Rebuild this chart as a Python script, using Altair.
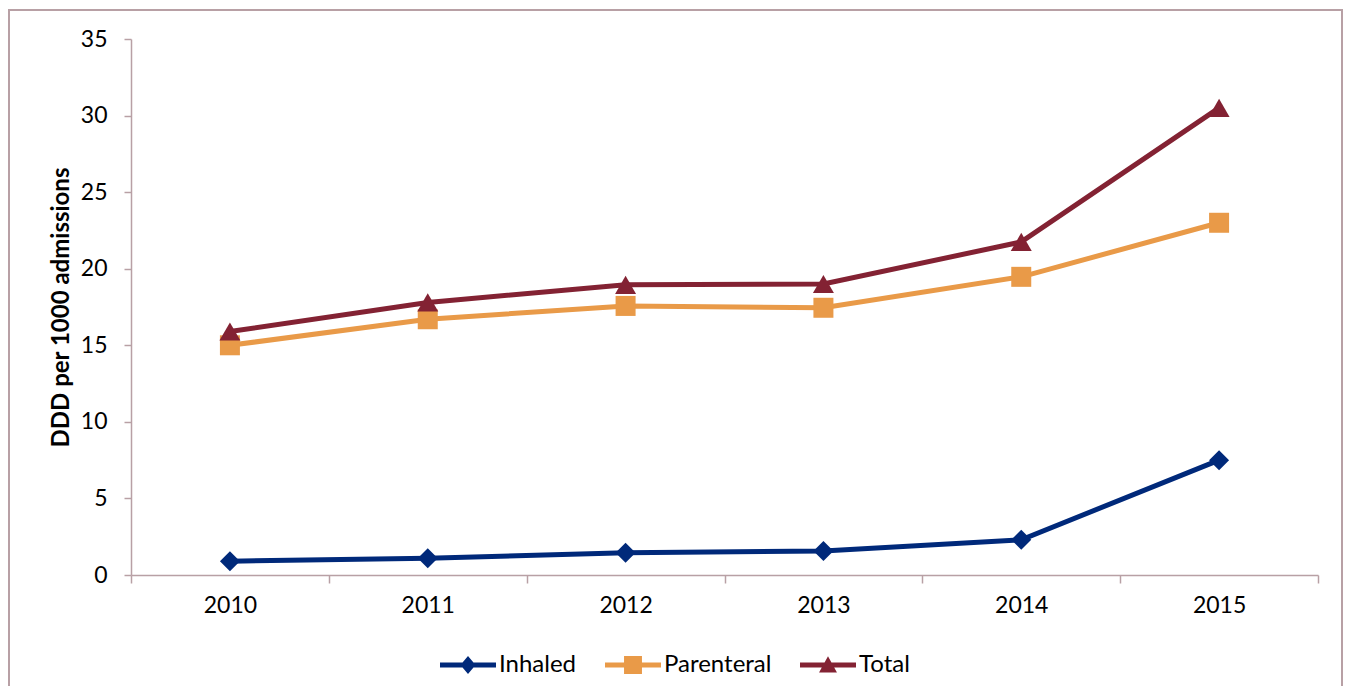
import altair as alt
import pandas as pd

years = ["2010", "2011", "2012", "2013", "2014", "2015"]
series_names = ["Inhaled", "Parenteral", "Total"]
inhaled = [0.9, 1.1, 1.45, 1.57, 2.3, 7.5]
parenteral = [15.0, 16.7, 17.57, 17.45, 19.47, 23.0]
total = [15.9, 17.8, 18.95, 19.0, 21.75, 30.5]
y_ticks = [0, 5, 10, 15, 20, 25, 30, 35]

colors = ["#00297A", "#E99A48", "#832233"]
marker_shapes = ["diamond", "square", "triangle-up"]
marker_sizes = [400, 400, 441]
legend_paths = [
    "M-1,-0.09H1V0.09H-1Z M0,-0.32L0.27,0L0,0.32L-0.27,0Z",
    "M-1,-0.09H1V0.09H-1Z M-0.32,-0.32H0.32V0.32H-0.32Z",
    "M-1,-0.09H1V0.09H-1Z M0,-0.31L0.32,0.27H-0.32Z",
]

rows = []
for name, vals in zip(series_names, [inhaled, parenteral, total]):
    for yr, v in zip(years, vals):
        rows.append({"Year": yr, "Series": name, "Value": v})
df = pd.DataFrame(rows)

FONT = "Lato"
AXIS_COLOR = "#B8A0A5"

x_enc = alt.X(
    "Year:O",
    sort=years,
    scale=alt.Scale(type="band", paddingInner=0, paddingOuter=0, domain=years),
    axis=alt.Axis(
        title=None,
        tickBand="extent",
        domainColor=AXIS_COLOR,
        domainWidth=1.5,
        tickColor=AXIS_COLOR,
        tickWidth=1.5,
        tickSize=8,
        labelFont=FONT,
        labelFontSize=23,
        labelColor="black",
        labelPadding=11,
        labelAngle=0,
        grid=False,
    ),
)
y_enc = alt.Y(
    "Value:Q",
    scale=alt.Scale(domain=[0, 35], nice=False, zero=True),
    axis=alt.Axis(
        title="DDD per 1000 admissions",
        titleFont=FONT,
        titleFontSize=24,
        titleFontWeight="bold",
        titleColor="black",
        titlePadding=7,
        values=y_ticks,
        domainColor=AXIS_COLOR,
        domainWidth=1.5,
        tickColor=AXIS_COLOR,
        tickWidth=1.5,
        tickSize=7,
        labelFont=FONT,
        labelFontSize=23,
        labelColor="black",
        labelPadding=17,
        grid=False,
    ),
)

base = alt.Chart(df)

layers = []
# border around the whole chart
border = alt.Chart(pd.DataFrame({"a": [0]})).mark_rect(
    filled=False, stroke=AXIS_COLOR, strokeWidth=2
).encode(
    x=alt.value(-122), x2=alt.value(1211), y=alt.value(-29), y2=alt.value(720)
)
layers.append(border)

for name, col, shp, sz in zip(series_names, colors, marker_shapes, marker_sizes):
    sub = base.transform_filter(alt.datum.Series == name)
    line = sub.mark_line(color=col, strokeWidth=5).encode(x=x_enc, y=y_enc)
    pts = sub.mark_point(
        color=col, shape=shp, size=sz, filled=True, opacity=1
    ).encode(x=x_enc, y=y_enc)
    layers.append(line)
    layers.append(pts)

legend_props = dict(
    title=None,
    orient="none",
    direction="horizontal",
    legendX=309,
    legendY=598,
    symbolSize=3136,
    symbolOpacity=1,
    symbolStrokeWidth=0,
    labelFont=FONT,
    labelFontSize=24,
    labelColor="black",
    labelOffset=3,
    columnPadding=28,
    padding=0,
)

legend_layer = base.mark_point(filled=True, opacity=0).encode(
    x=x_enc,
    y=y_enc,
    color=alt.Color(
        "Series:N",
        scale=alt.Scale(domain=series_names, range=colors),
        legend=alt.Legend(**legend_props),
    ),
    shape=alt.Shape(
        "Series:N",
        scale=alt.Scale(domain=series_names, range=legend_paths),
        legend=alt.Legend(**legend_props),
    ),
)
layers.append(legend_layer)

chart = alt.layer(*layers).properties(
    width=1187,
    height=536,
    background="white",
    autosize=alt.AutoSizeParams(type="none"),
    padding={"left": 123, "top": 31, "right": 25, "bottom": 111},
).configure_view(stroke=None)

chart.save("out.html", embed_options={"renderer": "svg", "actions": False})
